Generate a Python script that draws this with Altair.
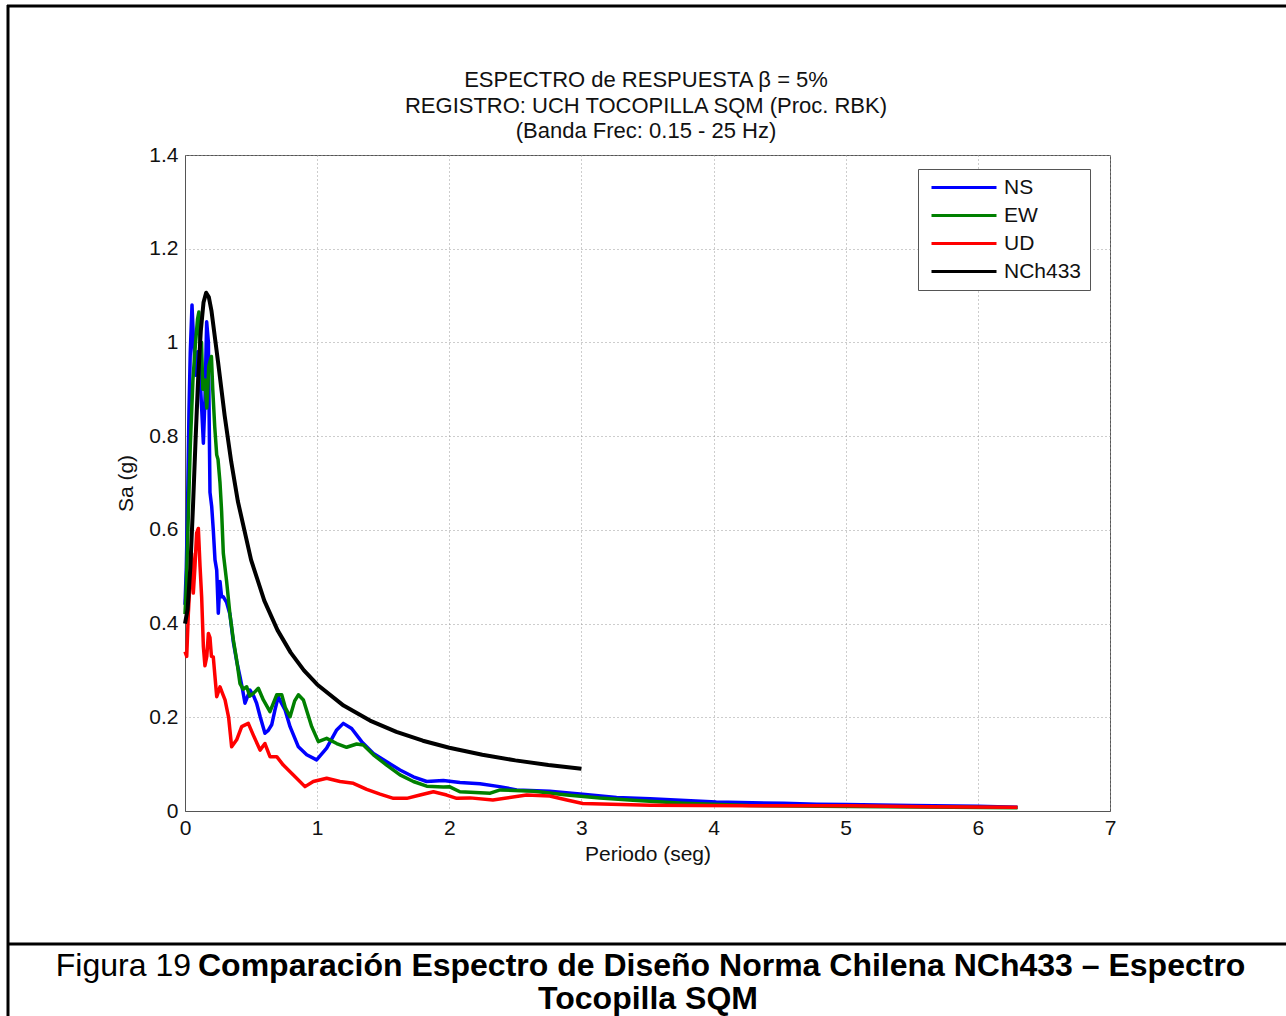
import altair as alt
import pandas as pd

FONT = "Liberation Sans"

# ---- data ----
series_names = ["NS", "EW", "UD", "NCh433"]
series_colors = ["#0000ff", "#008000", "#ff0000", "#000000"]

ns_T = [0, 0.01, 0.02, 0.03, 0.04, 0.053, 0.065, 0.08, 0.095, 0.11, 0.126, 0.139, 0.151, 0.164, 0.177,
        0.189, 0.202, 0.214, 0.227, 0.24, 0.252, 0.265, 0.277, 0.29, 0.315, 0.34, 0.366, 0.391, 0.416,
        0.435, 0.454, 0.492, 0.52, 0.542, 0.57, 0.605, 0.63, 0.656, 0.68, 0.706, 0.73, 0.757, 0.795,
        0.858, 0.921, 0.996, 1.072, 1.148, 1.198, 1.261, 1.337, 1.426, 1.526, 1.627, 1.728, 1.829,
        1.955, 2.081, 2.232, 2.38, 2.51, 2.76, 3.01, 3.266, 3.52, 4.02, 4.53, 4.78, 5.0, 5.5, 6.0, 6.3]
ns_Sa = [0.44, 0.52, 0.66, 0.85, 0.98, 1.08, 1.0, 0.93, 0.98, 0.95, 0.86, 0.785, 0.877, 1.044, 1.0,
         0.68, 0.65, 0.60, 0.536, 0.514, 0.422, 0.49, 0.457, 0.457, 0.445, 0.42, 0.36, 0.32, 0.287,
         0.26, 0.23, 0.258, 0.245, 0.23, 0.20, 0.166, 0.172, 0.184, 0.215, 0.244, 0.23, 0.216, 0.18,
         0.137, 0.12, 0.109, 0.134, 0.173, 0.187, 0.176, 0.148, 0.123, 0.105, 0.0875, 0.073, 0.063,
         0.065, 0.061, 0.058, 0.052, 0.045, 0.042, 0.036, 0.029, 0.026, 0.019, 0.0165, 0.0145, 0.014,
         0.012, 0.01, 0.008]

ew_T = [0, 0.01, 0.02, 0.04, 0.06, 0.08, 0.095, 0.105, 0.115, 0.125, 0.135, 0.15, 0.165, 0.18, 0.2,
        0.21, 0.225, 0.24, 0.25, 0.265, 0.277, 0.29, 0.315, 0.34, 0.366, 0.391, 0.416, 0.44, 0.467,
        0.49, 0.517, 0.555, 0.593, 0.643, 0.694, 0.732, 0.76, 0.795, 0.83, 0.858, 0.896, 0.959, 1.009,
        1.072, 1.148, 1.223, 1.299, 1.35, 1.426, 1.526, 1.627, 1.728, 1.829, 1.955, 2.0, 2.08, 2.16,
        2.31, 2.385, 2.64, 2.89, 3.14, 3.39, 3.77, 4.27, 4.8, 5.3, 5.8, 6.3]
ew_Sa = [0.42, 0.48, 0.58, 0.78, 0.92, 1.0, 1.05, 1.065, 0.99, 1.0, 0.9, 0.92, 0.86, 0.95, 0.97,
         0.9, 0.82, 0.76, 0.75, 0.70, 0.64, 0.55, 0.49, 0.42, 0.365, 0.322, 0.272, 0.26, 0.265,
         0.245, 0.251, 0.262, 0.237, 0.212, 0.248, 0.248, 0.22, 0.201, 0.235, 0.248, 0.237, 0.18, 0.148,
         0.155, 0.144, 0.136, 0.143, 0.141, 0.12, 0.098, 0.077, 0.063, 0.053, 0.051, 0.052, 0.041, 0.04,
         0.038, 0.045, 0.042, 0.034, 0.0275, 0.0227, 0.0167, 0.0115, 0.01, 0.009, 0.008, 0.007]

ud_T = [0, 0.013, 0.025, 0.038, 0.05, 0.063, 0.075, 0.088, 0.101, 0.114, 0.126, 0.139, 0.151, 0.165,
        0.177, 0.189, 0.2, 0.214, 0.24, 0.265, 0.285, 0.303, 0.33, 0.353, 0.391, 0.429, 0.479, 0.517,
        0.568, 0.605, 0.643, 0.694, 0.744, 0.82, 0.908, 0.971, 1.072, 1.173, 1.274, 1.375, 1.476, 1.577,
        1.678, 1.779, 1.88, 1.98, 2.056, 2.157, 2.33, 2.585, 2.76, 2.89, 3.01, 3.52, 4.27, 5.03, 5.6, 6.3]
ud_Sa = [0.34, 0.33, 0.42, 0.49, 0.55, 0.465, 0.52, 0.593, 0.603, 0.521, 0.457, 0.351, 0.31, 0.33,
         0.379, 0.37, 0.33, 0.329, 0.244, 0.265, 0.25, 0.237, 0.2, 0.137, 0.152, 0.18, 0.187, 0.162,
         0.13, 0.144, 0.116, 0.116, 0.098, 0.077, 0.052, 0.063, 0.07, 0.063, 0.059, 0.046, 0.036, 0.027,
         0.027, 0.034, 0.041, 0.034, 0.027, 0.028, 0.0235, 0.034, 0.032, 0.0235, 0.016, 0.0125, 0.0113,
         0.011, 0.009, 0.008]

nch_T = [0, 0.02, 0.04, 0.06, 0.08, 0.10, 0.12, 0.14, 0.16, 0.18, 0.20, 0.25, 0.30, 0.35, 0.40, 0.50,
         0.60, 0.70, 0.80, 0.90, 1.0, 1.2, 1.4, 1.6, 1.8, 2.0, 2.25, 2.5, 2.75, 3.0]
nch_Sa = [0.400, 0.431, 0.518, 0.647, 0.792, 0.926, 1.026, 1.085, 1.106, 1.097, 1.068, 0.959, 0.844,
          0.745, 0.661, 0.536, 0.449, 0.386, 0.338, 0.300, 0.270, 0.225, 0.193, 0.169, 0.150, 0.135,
          0.120, 0.108, 0.098, 0.090]

x_ticks = [0, 1, 2, 3, 4, 5, 6, 7]
y_ticks = [0, 0.2, 0.4, 0.6, 0.8, 1.0, 1.2, 1.4]

title_lines = ["ESPECTRO de RESPUESTA \u03b2 = 5%",
               "REGISTRO: UCH TOCOPILLA SQM (Proc. RBK)",
               "(Banda Frec: 0.15 - 25 Hz)"]
caption_regular = ["Figura 19"]
caption_bold_1 = ["Comparaci\u00f3n Espectro de Dise\u00f1o Norma Chilena NCh433 \u2013 Espectro"]
caption_bold_2 = ["Tocopilla SQM"]

# ---- build table ----
rows = []
for name, T, S in [("NS", ns_T, ns_Sa), ("EW", ew_T, ew_Sa), ("UD", ud_T, ud_Sa), ("NCh433", nch_T, nch_Sa)]:
    for t, s in zip(T, S):
        rows.append({"serie": name, "T": t, "Sa": s})
df = pd.DataFrame(rows)

W, H = 925, 656
PAD = {"left": 185, "top": 155, "right": 176, "bottom": 205}

color = alt.Color(
    "serie:N",
    scale=alt.Scale(domain=series_names, range=series_colors),
    legend=alt.Legend(
        title=None, orient="none", legendX=733, legendY=14,
        direction="vertical",
        symbolType="M-1.25,0H15", symbolSize=64, symbolStrokeWidth=3,
        symbolFillColor="transparent",
        labelFont=FONT, labelFontSize=21, labelColor="#111", labelOffset=57,
        rowPadding=6, padding=8, strokeColor="#555", fillColor="white",
    ),
)

xenc = alt.X("T:Q", scale=alt.Scale(domain=[0, 7], nice=False, zero=False),
             axis=alt.Axis(values=x_ticks, title="Periodo (seg)", format="d", labelFlush=False,
                           labelFont=FONT, labelFontSize=21, labelColor="#111", labelPadding=6,
                           titleFont=FONT, titleFontSize=21, titleFontWeight="normal",
                           titleColor="#111", titlePadding=5,
                           ticks=False, domainColor="#555", domainWidth=1,
                           grid=True, gridColor="#9a9a9a", gridDash=[1, 3], gridWidth=1))
yenc = alt.Y("Sa:Q", scale=alt.Scale(domain=[0, 1.4], nice=False, zero=False),
             axis=alt.Axis(values=y_ticks, title="Sa (g)", labelFlush=False,
                           labelExpr="datum.value == 0 ? '0' : datum.value == 1 ? '1' : format(datum.value, '.1f')",
                           labelFont=FONT, labelFontSize=21, labelColor="#111", labelPadding=7,
                           titleFont=FONT, titleFontSize=21, titleFontWeight="normal",
                           titleColor="#111", titlePadding=12,
                           ticks=False, domainColor="#555", domainWidth=1,
                           grid=True, gridColor="#9a9a9a", gridDash=[1, 3], gridWidth=1))

base = alt.Chart(df)
layers = []
for name, sw in zip(series_names, [3.5, 3.5, 3.5, 4]):
    layers.append(
        base.transform_filter(alt.datum.serie == name)
        .mark_line(strokeWidth=sw, strokeJoin="round")
        .encode(x=xenc, y=yenc, color=color)
    )

one = pd.DataFrame({"k": [0]})
deco = []
# frame lines of the figure
deco.append(alt.Chart(one).mark_rule(color="black", strokeWidth=3).encode(
    x=alt.value(-178), x2=alt.value(1101), y=alt.value(-149)))
deco.append(alt.Chart(one).mark_rule(color="black", strokeWidth=3).encode(
    x=alt.value(-177), y=alt.value(-150), y2=alt.value(861)))
deco.append(alt.Chart(one).mark_rule(color="black", strokeWidth=3).encode(
    x=alt.value(-178), x2=alt.value(1101), y=alt.value(789)))

# chart title (three centred lines)
for line, yy in zip(title_lines, [-68, -42, -17]):
    deco.append(alt.Chart(pd.DataFrame({"t": [line]})).mark_text(
        font=FONT, fontSize=22, align="center", baseline="alphabetic", color="#111").encode(
        text="t:N", x=alt.value(461), y=alt.value(yy)))

# caption
deco.append(alt.Chart(pd.DataFrame({"t": caption_regular})).mark_text(
    font=FONT, fontSize=32, align="right", baseline="alphabetic", color="black").encode(
    text="t:N", x=alt.value(6), y=alt.value(821)))
deco.append(alt.Chart(pd.DataFrame({"t": caption_bold_1})).mark_text(
    font=FONT, fontSize=32, fontWeight="bold", align="left", baseline="alphabetic", color="black").encode(
    text="t:N", x=alt.value(13), y=alt.value(821)))
deco.append(alt.Chart(pd.DataFrame({"t": caption_bold_2})).mark_text(
    font=FONT, fontSize=32, fontWeight="bold", align="center", baseline="alphabetic", color="black").encode(
    text="t:N", x=alt.value(463), y=alt.value(854)))

chart = alt.layer(*layers, *deco).properties(
    width=W, height=H,
    padding=PAD,
    autosize=alt.AutoSizeParams(type="none"),
    background="white",
).configure_view(stroke="#555", strokeWidth=1)

chart.save("out.html", embed_options={"renderer": "svg", "actions": False})
